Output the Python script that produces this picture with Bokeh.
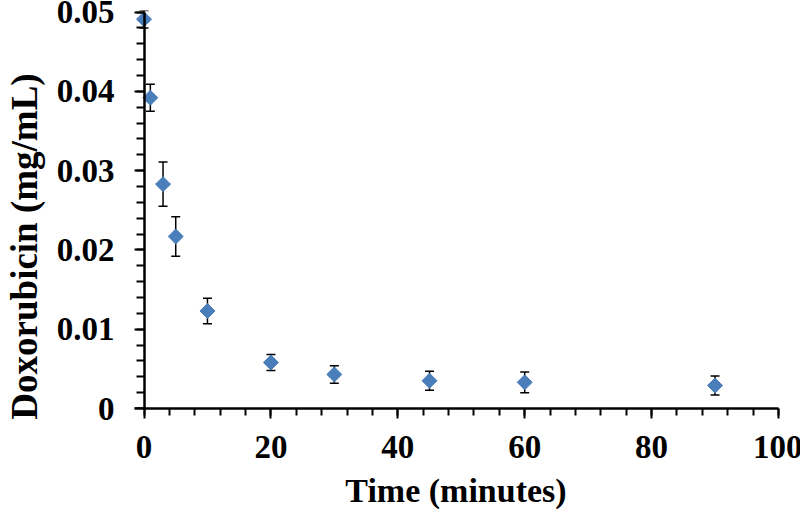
import numpy as np
from bokeh.plotting import figure
from bokeh.models import (ColumnDataSource, Whisker, TeeHead, Range1d, FixedTicker,
                          LinearAxis)
from bokeh.embed import file_html
from bokeh.resources import INLINE

# ---- data ----
time_min = [0, 1, 3, 5, 10, 20, 30, 45, 60, 90]
doxorubicin = [0.0491, 0.0392, 0.0283, 0.0217, 0.0123, 0.0058, 0.0043, 0.0035, 0.0033, 0.0029]
sd = [0.0011, 0.0017, 0.0028, 0.0025, 0.0016, 0.0010, 0.0011, 0.0012, 0.0013, 0.0012]
x_ticks = [0, 20, 40, 60, 80, 100]
x_minor_ticks = list(range(0, 101, 4))
y_ticks = [0, 0.01, 0.02, 0.03, 0.04, 0.05]
y_minor_ticks = [round(i * 0.002, 4) for i in range(26)]
y_tick_labels = ["0", "0.01", "0.02", "0.03", "0.04", "0.05"]
x_title = "Time (minutes)"
y_title = "Doxorubicin (mg/mL)"

FONT = "Liberation Serif"
BLUE = "#4A7EBB"

src = ColumnDataSource(dict(
    x=time_min,
    y=doxorubicin,
    upper=[v + e for v, e in zip(doxorubicin, sd)],
    lower=[v - e for v, e in zip(doxorubicin, sd)],
))

p = figure(
    output_backend="svg", toolbar_location=None,
    frame_width=645, frame_height=398,
    min_border_left=131, min_border_right=24, min_border_top=10, min_border_bottom=107,
    x_range=Range1d(-1.655, 100), y_range=Range1d(0, 0.0502),
)
p.outline_line_color = None
p.xgrid.visible = False
p.ygrid.visible = False
p.background_fill_color = "white"
p.border_fill_color = "white"

# error bars (beneath the markers)
w = Whisker(source=src, base="x", upper="upper", lower="lower",
            line_color="black", line_width=1.5,
            upper_head=TeeHead(size=9, line_color="black", line_width=1.5),
            lower_head=TeeHead(size=9, line_color="black", line_width=1.5))
w.level = "underlay"
p.add_layout(w)

# data markers
p.scatter("x", "y", source=src, marker="square", angle=np.pi / 4, size=10.6,
          fill_color=BLUE, line_color=BLUE)

# x axis
xa = p.xaxis[0]
xa.ticker = FixedTicker(ticks=x_ticks, minor_ticks=x_minor_ticks)
xa.bounds = (-1.576, 100)
xa.axis_line_width = 2.5
xa.major_tick_line_width = 2
xa.minor_tick_line_width = 2
xa.major_tick_in = 0
xa.major_tick_out = 10
xa.minor_tick_in = 0
xa.minor_tick_out = 7
xa.major_label_text_font = FONT
xa.major_label_text_font_style = "bold"
xa.major_label_text_font_size = "33px"
xa.major_label_text_color = "black"
xa.major_label_standoff = 17
xa.axis_label = x_title
xa.axis_label_text_font = FONT
xa.axis_label_text_font_style = "bold"
xa.axis_label_text_font_size = "34px"
xa.axis_label_text_color = "black"
xa.axis_label_standoff = 11

# y axis line and ticks, placed at x = 0 (labels come from a second axis)
ya = p.yaxis[0]
ya.fixed_location = x_ticks[0]
ya.ticker = FixedTicker(ticks=y_ticks, minor_ticks=y_minor_ticks)
ya.bounds = (y_ticks[0], y_ticks[-1])
ya.major_label_overrides = {t: "" for t in y_ticks}
ya.axis_line_width = 2.5
ya.axis_line_color = "black"
ya.major_tick_line_color = "black"
ya.minor_tick_line_color = "black"
ya.major_tick_line_width = 2
ya.minor_tick_line_width = 2
ya.major_tick_in = 0
ya.major_tick_out = 10
ya.minor_tick_in = 0
ya.minor_tick_out = 8

# y tick labels and y title (trailing no-break spaces shift the title down)
yl = LinearAxis(ticker=FixedTicker(ticks=y_ticks, minor_ticks=[]))
yl.major_label_overrides = dict(zip(y_ticks, y_tick_labels))
yl.axis_line_color = None
yl.major_tick_line_color = None
yl.minor_tick_line_color = None
yl.major_tick_in = 0
yl.major_tick_out = 0
yl.minor_tick_in = 0
yl.minor_tick_out = 0
yl.major_label_text_font = FONT
yl.major_label_text_font_style = "bold"
yl.major_label_text_font_size = "33px"
yl.major_label_text_color = "black"
yl.major_label_standoff = 19
yl.axis_label = y_title + "\u00a0" * 8
yl.axis_label_text_font = FONT
yl.axis_label_text_font_style = "bold"
yl.axis_label_text_font_size = "37px"
yl.axis_label_text_color = "black"
yl.axis_label_standoff = 9
p.add_layout(yl, "left")

with open("out.html", "w") as f:
    f.write(file_html(p, INLINE))
